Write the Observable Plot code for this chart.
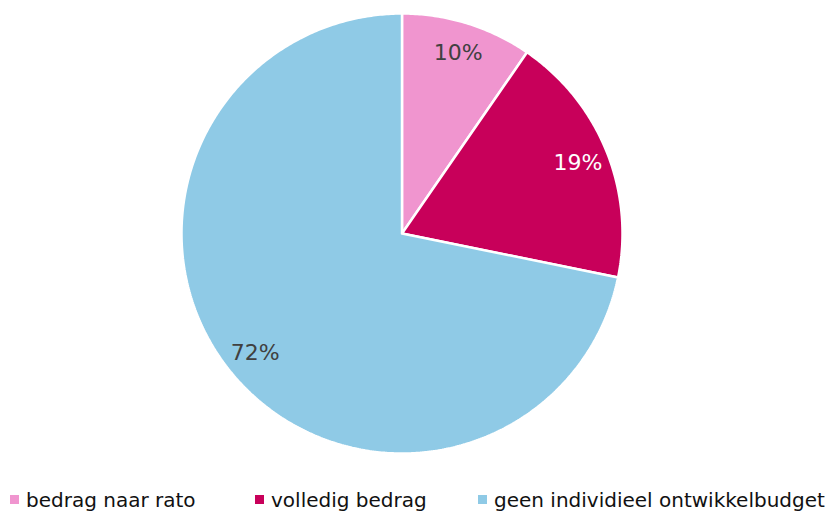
<!DOCTYPE html>
<html>
<head>
<meta charset="utf-8">
<script src="https://cdn.jsdelivr.net/npm/d3@7"></script>
<script src="https://cdn.jsdelivr.net/npm/@observablehq/plot@0.6"></script>
<style>
  body { margin: 0; background: #fff; font-family: Verdana, "DejaVu Sans", sans-serif; }
  #chart svg { display: block; }
  #legend { position: relative; width: 833px; height: 41px; }
  .item { position: absolute; top: 18px; height: 24px; display: flex; align-items: center; font-size: 20px; color: #111; white-space: nowrap; line-height: 24px; }
  .sw { width: 9px; height: 9px; margin-right: 7px; position: relative; top: -1px; }
</style>
</head>
<body>
<div id="chart"></div>
<div id="legend"></div>
<script>
const categories = ["bedrag naar rato", "volledig bedrag", "geen individieel ontwikkelbudget"];
const shares = [9.6, 18.6, 71.8];
const labels = ["10%", "19%", "72%"];
const colors = ["#f095cf", "#c8005a", "#8fcae6"];
const labelColors = ["#404040", "#ffffff", "#404040"];

const pie = d3.pie().sort(null).value(d => d)(shares);
const polys = [];
pie.forEach((p, i) => {
  const n = Math.max(4, Math.ceil((p.endAngle - p.startAngle) / 0.01));
  polys.push({key: categories[i], x: 0, y: 0});
  for (let k = 0; k <= n; k++) {
    const a = p.startAngle + (p.endAngle - p.startAngle) * k / n;
    polys.push({key: categories[i], x: Math.sin(a), y: Math.cos(a)});
  }
  polys.push({key: categories[i], x: 0, y: 0});
});
const labelR = 0.86;
const labelData = pie.map((p, i) => {
  const a = (p.startAngle + p.endAngle) / 2;
  return {x: labelR * Math.sin(a), y: labelR * Math.cos(a), text: labels[i], c: labelColors[i]};
});

const chart = Plot.plot({
  width: 833,
  height: 470,
  marginLeft: 181,
  marginRight: 211,
  marginTop: 13,
  marginBottom: 17,
  x: {domain: [-1, 1], axis: null},
  y: {domain: [-1, 1], axis: null},
  color: {domain: categories, range: colors},
  style: {fontFamily: "Verdana, 'DejaVu Sans', sans-serif", background: "#fff"},
  marks: [
    Plot.line(polys, {x: "x", y: "y", z: "key", fill: "key", stroke: "#fff", strokeWidth: 2.5, strokeLinejoin: "miter", curve: "linear"}),
    Plot.text(labelData, {x: "x", y: "y", text: "text", fill: d => d.c, fontSize: 22})
  ]
});
document.getElementById("chart").appendChild(chart);

const legend = document.getElementById("legend");
const lefts = [10, 255, 478];
categories.forEach((c, i) => {
  const it = document.createElement("div");
  it.className = "item";
  it.style.left = lefts[i] + "px";
  it.innerHTML = `<span class="sw" style="background:${colors[i]}"></span><span>${c}</span>`;
  legend.appendChild(it);
});
</script>
</body>
</html>
